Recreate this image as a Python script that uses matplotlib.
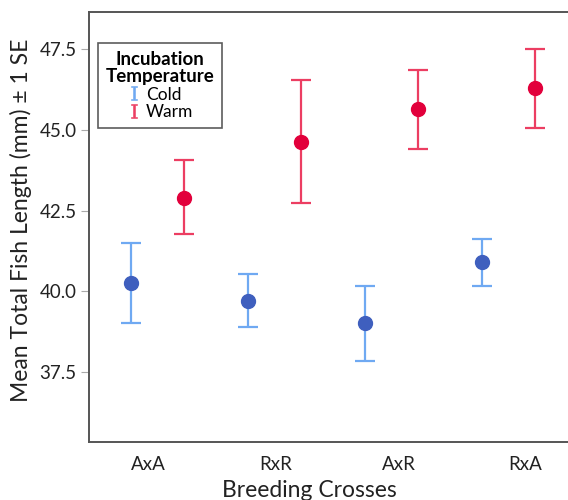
import matplotlib
matplotlib.use('Agg')
import matplotlib.pyplot as plt
from matplotlib.lines import Line2D

crosses = ['AxA', 'RxR', 'AxR', 'RxA']
cold_mean = [40.26, 39.71, 39.01, 40.90]
cold_low = [39.02, 38.90, 37.85, 40.17]
cold_high = [41.50, 40.53, 40.15, 41.63]
warm_mean = [42.90, 44.63, 45.63, 46.29]
warm_low = [41.76, 42.72, 44.40, 45.07]
warm_high = [44.06, 46.55, 46.86, 47.51]

plt.rcParams['font.family'] = ['Lato', 'DejaVu Sans']
plt.rcParams['mathtext.fontset'] = 'dejavuserif'

fig = plt.figure(figsize=(5.68, 5.0), dpi=100)
ax = fig.add_axes([89 / 568, 58 / 500, 1 - 89 / 568, 430 / 500])

dodge = 0.227
series = [
    ('Cold', cold_mean, cold_low, cold_high, -dodge, '#3F5FBE', '#6FA9F2'),
    ('Warm', warm_mean, warm_low, warm_high, dodge, '#E2003B', '#EC3E62'),
]
handles = []
for name, mean, low, high, off, mcol, ecol in series:
    xs = [i + off for i in range(len(crosses))]
    err = [[m - lo for m, lo in zip(mean, low)],
           [hi - m for m, hi in zip(mean, high)]]
    ax.errorbar(xs, mean, yerr=err, fmt='none', ecolor=ecol,
                elinewidth=1.6, capsize=7, capthick=1.6, zorder=2)
    ax.plot(xs, mean, 'o', color=mcol, markersize=10, zorder=3)
    # serif "I" stands in for the error bar key
    handles.append(Line2D([0], [0], color=ecol, marker=r'$\mathrm{I}$',
                          linestyle='none', markersize=10.5,
                          markeredgewidth=0.4, markeredgecolor=ecol,
                          label=name))

ax.set_xlim(-0.59, 3.51)
ax.set_ylim(35.33, 48.65)
ax.set_yticks([37.5, 40.0, 42.5, 45.0, 47.5])
ax.set_yticklabels(['37.5', '40.0', '42.5', '45.0', '47.5'])
ax.set_xticks([-0.08, 1.01, 2.06, 3.14])
ax.set_xticklabels(crosses)
ax.tick_params(axis='x', length=0, labelsize=13.5, pad=10, colors='#222222')
ax.tick_params(axis='y', length=6, width=0.8, color='#aaaaaa',
               labelsize=13.5, pad=3, labelcolor='#222222')
for side in ['left', 'bottom', 'top']:
    ax.spines[side].set_color('#555555')
    ax.spines[side].set_linewidth(1.4)
ax.spines['right'].set_visible(False)

ax.set_xlabel('Breeding Crosses', fontsize=16.5, color='#222222')
ax.xaxis.set_label_coords(0.46, -0.088)
ax.set_ylabel('Mean Total Fish Length (mm) ± 1 SE', fontsize=16.5,
              color='#222222')
ax.yaxis.set_label_coords(-0.118, 0.516)

leg = ax.legend(handles=handles, title='Incubation\nTemperature',
                loc='upper left', bbox_to_anchor=(0.019, 0.928),
                borderaxespad=0, frameon=True, fancybox=False, fontsize=12.5,
                title_fontproperties={'weight': 'bold', 'size': 13.5},
                handletextpad=0.3, labelspacing=0.1, borderpad=0.45,
                handlelength=0.8)
leg.get_frame().set_edgecolor('#333333')
leg.get_frame().set_linewidth(1.2)
leg.get_title().set_multialignment('center')
leg.get_title().set_linespacing(1.0)

fig.savefig('out.png', dpi=100)
